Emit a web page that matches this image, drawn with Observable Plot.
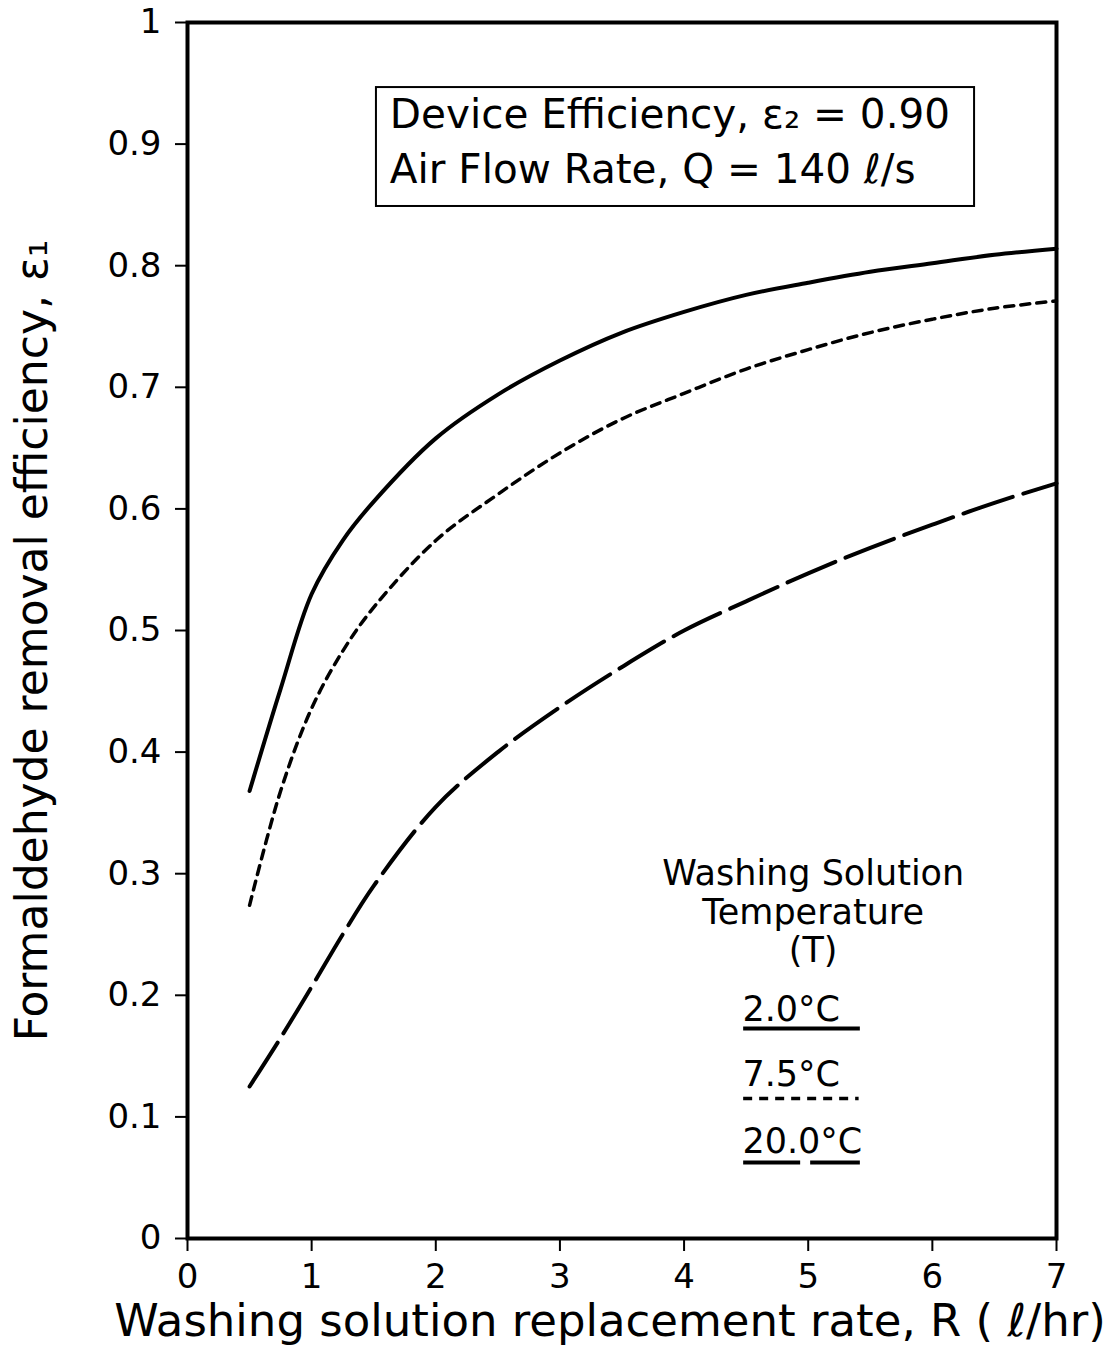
<!DOCTYPE html>
<html>
<head>
<meta charset="utf-8">
<script src="https://cdn.jsdelivr.net/npm/d3@7"></script>
<script src="https://cdn.jsdelivr.net/npm/@observablehq/plot@0.6"></script>
<style>
  html, body { margin: 0; padding: 0; background: #fff; }
  svg { display: block; }
</style>
</head>
<body>
<div id="chart"></div>
<script>
// Washing solution replacement rate, R (l/hr)
const R = [0.5, 0.75, 1, 1.25, 1.5, 2, 2.5, 3, 3.5, 4, 4.5, 5, 5.5, 6, 6.5, 7];
// Formaldehyde removal efficiency for each washing solution temperature
const eff2C  = [0.368, 0.452, 0.530, 0.574, 0.606, 0.658, 0.694, 0.722, 0.745, 0.762, 0.776, 0.786, 0.795, 0.802, 0.809, 0.814];
const eff75C = [0.274, 0.368, 0.436, 0.483, 0.519, 0.574, 0.612, 0.646, 0.674, 0.695, 0.715, 0.731, 0.745, 0.756, 0.765, 0.771];
const eff20C = [0.125, 0.165, 0.207, 0.250, 0.290, 0.355, 0.400, 0.437, 0.470, 0.500, 0.524, 0.547, 0.568, 0.587, 0.605, 0.621];
const seriesNames = ["2.0°C", "7.5°C", "20.0°C"];
const xTicks = [0, 1, 2, 3, 4, 5, 6, 7];
const xTickLabels = ["0", "1", "2", "3", "4", "5", "6", "7"];
const yTicks = [0, 0.1, 0.2, 0.3, 0.4, 0.5, 0.6, 0.7, 0.8, 0.9, 1];
const yTickLabels = ["0", "0.1", "0.2", "0.3", "0.4", "0.5", "0.6", "0.7", "0.8", "0.9", "1"];
const boxLines = ["Device Efficiency, ε₂ = 0.90", "Air Flow Rate, Q = 140 ℓ/s"];
const legendTitle = "Washing Solution\nTemperature\n(T)";
const xLabel = "Washing solution replacement rate, R ( ℓ/hr)";
const yLabel = "Formaldehyde removal efficiency, ε₁";

const rows = (vals) => R.map((r, i) => ({R: r, e: vals[i]}));
const s2 = rows(eff2C), s75 = rows(eff75C), s20 = rows(eff20C);

const FONT = "DejaVu Sans";
const hasAxisMarks = typeof Plot.axisX === "function";

const axisMarks = hasAxisMarks ? [
  Plot.axisX({ticks: xTicks, tickSize: 13, tickPadding: 12, strokeWidth: 2, fontSize: 34, label: null,
    tickFormat: d => xTickLabels[xTicks.indexOf(d)]}),
  Plot.axisY({ticks: yTicks, tickSize: 12, tickPadding: 14, strokeWidth: 2, fontSize: 34, label: null,
    tickFormat: d => yTickLabels[yTicks.indexOf(d)]})
] : [];

const chart = Plot.plot({
  width: 1112,
  height: 1361,
  marginLeft: 187,
  marginRight: 56,
  marginTop: 22,
  marginBottom: 123,
  style: {fontFamily: FONT, fontSize: "34px", color: "black", background: "white", overflow: "visible"},
  x: {domain: [0, 7], ticks: xTicks, tickSize: 13, tickPadding: 12, label: null,
      tickFormat: d => xTickLabels[xTicks.indexOf(d)]},
  y: {domain: [0, 1], ticks: yTicks, tickSize: 12, tickPadding: 14, label: null,
      tickFormat: d => yTickLabels[yTicks.indexOf(d)]},
  marks: [
    ...axisMarks,
    // curves
    Plot.line(s2,  {x: "R", y: "e", curve: "catmull-rom", stroke: "black", strokeWidth: 4}),
    Plot.line(s75, {x: "R", y: "e", curve: "catmull-rom", stroke: "black", strokeWidth: 3.5, strokeDasharray: "9,7"}),
    Plot.line(s20, {x: "R", y: "e", curve: "catmull-rom", stroke: "black", strokeWidth: 4, strokeDasharray: "52,11"}),
    // info box
    Plot.rect([0], {x1: 1.522, x2: 6.34, y1: 0.8487, y2: 0.9465, fill: "white", stroke: "black", strokeWidth: 2}),
    Plot.text([boxLines[0]], {x: 1.63, y: 0.924, text: d => d, textAnchor: "start", fontSize: 40.5, fill: "black"}),
    Plot.text([boxLines[1]], {x: 1.63, y: 0.8787, text: d => d, textAnchor: "start", fontSize: 40.5, fill: "black"}),
    // legend
    Plot.text([legendTitle], {x: 5.04, y: 0.313, text: d => d, lineAnchor: "top", lineHeight: 1.1, fontSize: 35, fill: "black"}),
    Plot.text([seriesNames[0]], {x: 4.47, y: 0.188, text: d => d, textAnchor: "start", fontSize: 35, fill: "black"}),
    Plot.text([seriesNames[1]], {x: 4.47, y: 0.1345, text: d => d, textAnchor: "start", fontSize: 35, fill: "black"}),
    Plot.text([seriesNames[2]], {x: 4.47, y: 0.0794, text: d => d, textAnchor: "start", fontSize: 35, fill: "black"}),
    Plot.ruleY([0.1727], {x1: 4.48, x2: 5.42, stroke: "black", strokeWidth: 4}),
    Plot.ruleY([0.1151], {x1: 4.48, x2: 5.41, stroke: "black", strokeWidth: 3.5, strokeDasharray: "9,7"}),
    Plot.ruleY([0.0625], {x1: 4.48, x2: 5.42, stroke: "black", strokeWidth: 4, strokeDasharray: "57,10"}),
    // axis titles
    Plot.text([xLabel], {frameAnchor: "bottom", text: d => d, textAnchor: "middle", dx: -12, dy: 97, fontSize: 45, fill: "black"}),
    Plot.text([yLabel], {frameAnchor: "left", text: d => d, textAnchor: "middle", rotate: -90, dx: -155, dy: 10, fontSize: 44, fill: "black"}),
    // frame
    Plot.frame({stroke: "black", strokeWidth: 4})
  ]
});

document.getElementById("chart").appendChild(chart);
</script>
</body>
</html>
